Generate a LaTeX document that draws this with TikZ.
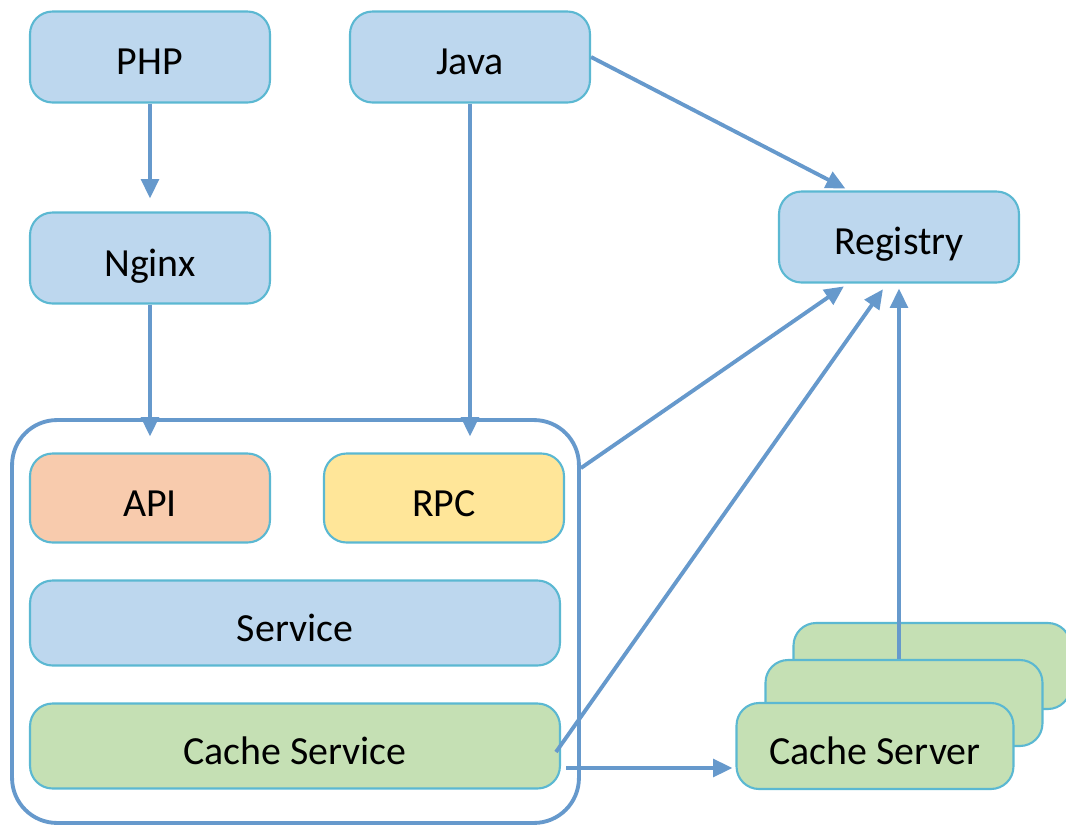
\documentclass[tikz,border=0pt]{standalone}
\usepackage{fontspec}
\setmainfont{Carlito}
\usetikzlibrary{arrows.meta,positioning,calc}
\definecolor{boxblue}{HTML}{BDD7EE}
\definecolor{apiorange}{HTML}{F8CBAD}
\definecolor{rpcyellow}{HTML}{FFE699}
\definecolor{cachegreen}{HTML}{C5E0B4}
\definecolor{edgecyan}{HTML}{5BB8D2}
\definecolor{linkblue}{HTML}{6699CC}

\begin{document}
\begin{tikzpicture}[x=0.02cm, y=-0.02cm,
  >={Triangle[length=11pt,width=10pt]},
  layer/.style={draw=edgecyan, line width=1.2pt, rounded corners=0.45cm, inner sep=0pt, text height=0.8cm, text depth=0.08cm, font=\fontsize{22.7}{27}\selectfont},
  small/.style={layer, fill=boxblue, minimum width=4.8cm, minimum height=1.82cm},
  wide/.style={layer, minimum width=10.6cm, minimum height=1.7cm},
  server/.style={layer, fill=cachegreen, minimum width=5.54cm, minimum height=1.72cm},
  link/.style={->, color=linkblue, line width=2.2pt}]
\useasboundingbox (0,0) rectangle (1066,825);

\node[small] (PHP) at (150,57) {PHP};
\node[small] (Java) at (470,57) {Java};
\node[small] (Nginx) at (150,258) {Nginx};
\node[small] (Registry) at (899,237) {Registry};

% application box
\node[draw=linkblue, line width=2.2pt, rounded corners=0.9cm, minimum width=11.34cm, minimum height=8.06cm] (Box) at (295.5,621.5) {};
\node[small, fill=apiorange, minimum height=1.78cm] (API) at (150,498) {API};
\node[small, fill=rpcyellow, minimum height=1.78cm] (RPC) at (444,498) {RPC};
\node[wide, fill=boxblue] (Service) at (295,623) {Service};
\node[wide, fill=cachegreen] (CacheSvc) at (295,746) {Cache Service};

% cache servers
\node[server] (CS3) at (932,666) {};
\node[server] (CS2) at (904,703) {};
\node[server] (CS1) at (875,746) {Cache Server};

\coordinate (BoxOut) at ([yshift=-1cm]Box.north east);
\coordinate (CacheOut) at ([xshift=0.1cm,yshift=-0.44cm]CacheSvc.east);

\path[link] (PHP) edge[shorten >=0.26cm] (Nginx)
            (Nginx) edge[shorten >=0.32cm] (API)
            (Java.south) edge[shorten >=0.32cm] (Java.south |- RPC.north)
            (Java.east) edge[shorten >=0.08cm] ([xshift=-1cm]Registry.north)
            (BoxOut) edge[shorten >=0.1cm] ([xshift=-1.02cm]Registry.south)
            ([xshift=-0.1cm,yshift=-0.12cm]CacheSvc.east) edge[shorten >=0.14cm] ([xshift=-0.24cm]Registry.south)
            (CS2.north -| Registry.south) edge[shorten >=0.1cm] (Registry.south)
            (CacheOut) edge[shorten >=0.06cm] (CacheOut -| CS1.west);
\end{tikzpicture}
\end{document}
